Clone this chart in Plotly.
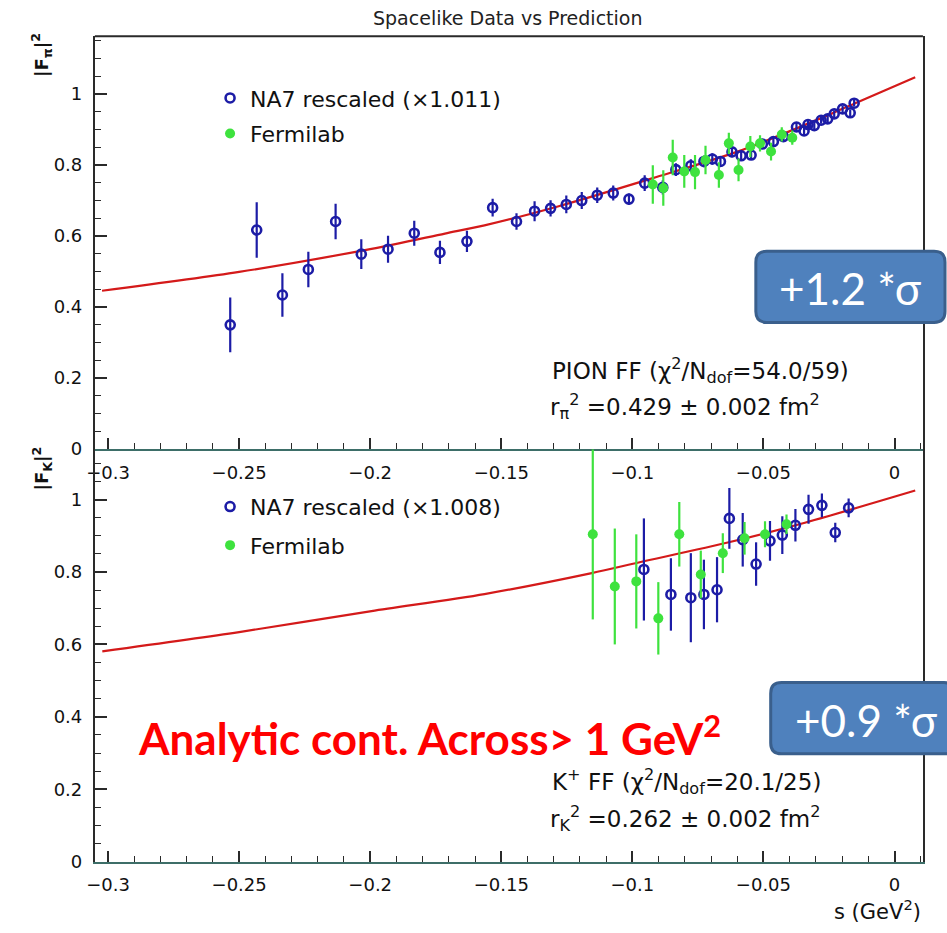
import plotly.graph_objects as go

# ---------------- pion form factor (upper pad) ----------------
pi_na7_s = [-0.2534, -0.2433, -0.2335, -0.2236, -0.2132, -0.2034, -0.1932, -0.1832,
            -0.1734, -0.1631, -0.1533, -0.1442, -0.1373, -0.1312, -0.1252, -0.1193,
            -0.1134, -0.1073, -0.1013, -0.0953, -0.0884, -0.0834, -0.0777, -0.0727,
            -0.0695, -0.0664, -0.0620, -0.0585, -0.0547, -0.0504, -0.0462, -0.0424,
            -0.0374, -0.0345, -0.0330, -0.0306, -0.0280, -0.0255, -0.0230, -0.0198,
            -0.0169, -0.0154]
pi_na7_f2 = [0.350, 0.617, 0.434, 0.506, 0.641, 0.549, 0.563, 0.608,
             0.554, 0.585, 0.680, 0.641, 0.670, 0.678, 0.689, 0.700,
             0.715, 0.721, 0.704, 0.749, 0.737, 0.787, 0.798, 0.810,
             0.817, 0.810, 0.837, 0.826, 0.828, 0.859, 0.866, 0.880,
             0.907, 0.896, 0.914, 0.911, 0.926, 0.930, 0.944, 0.958,
             0.947, 0.974]
pi_na7_err = [0.077, 0.078, 0.061, 0.050, 0.050, 0.042, 0.038, 0.035,
              0.033, 0.030, 0.025, 0.023, 0.028, 0.023, 0.025, 0.024,
              0.022, 0.021, 0.016, 0.022, 0.020, 0.018, 0.018, 0.016,
              0.016, 0.015, 0.015, 0.014, 0.014, 0.013, 0.013, 0.012,
              0.012, 0.011, 0.011, 0.010, 0.010, 0.010, 0.009, 0.009,
              0.009, 0.009]

pi_fnal_s = [-0.0922, -0.0882, -0.0846, -0.0802, -0.0761, -0.0721, -0.0670,
             -0.0632, -0.0595, -0.0550, -0.0513, -0.0471, -0.0430, -0.0390]
pi_fnal_f2 = [0.745, 0.735, 0.821, 0.782, 0.780, 0.814, 0.772,
              0.861, 0.786, 0.852, 0.861, 0.838, 0.886, 0.877]
pi_fnal_err = [0.054, 0.050, 0.050, 0.046, 0.048, 0.040, 0.036,
               0.030, 0.032, 0.030, 0.023, 0.025, 0.020, 0.020]

pi_fit_s = [-0.3023, -0.2500, -0.1995, -0.1715, -0.1564, -0.1281, -0.0922,
            -0.0582, -0.0242, -0.0141, 0.0079]
pi_fit_f2 = [0.446, 0.499, 0.564, 0.607, 0.630, 0.684, 0.763,
             0.842, 0.944, 0.977, 1.047]

# ---------------- kaon form factor (lower pad) ----------------
k_na7_s = [-0.0956, -0.0853, -0.0777, -0.0727, -0.0677, -0.0630, -0.0579, -0.0528,
           -0.0475, -0.0428, -0.0378, -0.0328, -0.0277, -0.0226, -0.0175]
k_na7_f2 = [0.807, 0.738, 0.729, 0.738, 0.751, 0.948, 0.889, 0.822,
            0.886, 0.902, 0.929, 0.973, 0.984, 0.909, 0.977]
k_na7_err = [0.141, 0.100, 0.123, 0.096, 0.090, 0.084, 0.074, 0.060,
             0.055, 0.052, 0.045, 0.040, 0.033, 0.027, 0.026]

k_fnal_s = [-0.1151, -0.1067, -0.0985, -0.0901, -0.0821, -0.0739, -0.0655,
            -0.0572, -0.0494, -0.0412]
k_fnal_f2 = [0.904, 0.760, 0.774, 0.672, 0.904, 0.793, 0.852, 0.893, 0.904, 0.932]
k_fnal_err = [0.235, 0.160, 0.130, 0.100, 0.089, 0.066, 0.055, 0.045, 0.036, 0.027]

k_fit_s = [-0.3022, -0.2500, -0.1995, -0.1564, -0.1155, -0.0972, -0.0632,
           -0.0342, 0.0079]
k_fit_f2 = [0.581, 0.634, 0.692, 0.739, 0.797, 0.827, 0.882, 0.936, 1.025]

# ---------------- text ----------------
title_text = "Spacelike Data vs Prediction"
pi_legend_na7 = "NA7 rescaled (×1.011)"
k_legend_na7 = "NA7 rescaled (×1.008)"
legend_fnal = "Fermilab"
pi_fit_lines = ["PION FF (χ<sup>2</sup>/N<sub>dof</sub>=54.0/59)",
                "r<sub>π</sub><sup>2</sup> =0.429 ± 0.002 fm<sup>2</sup>"]
k_fit_lines = ["K<sup>+</sup> FF (χ<sup>2</sup>/N<sub>dof</sub>=20.1/25)",
               "r<sub>K</sub><sup>2</sup> =0.262 ± 0.002 fm<sup>2</sup>"]
pi_sigma_text = "+1.2 *σ"
k_sigma_text = "+0.9 *σ"
continuation_text = "<b>Analytic cont. Across> 1 GeV<sup>2</sup></b>"

# ---------------- styling ----------------
W, H = 947, 933
ROOT_FONT = "DejaVu Sans"
BLUE = "#1c1ca6"
GREEN = "#3ee23e"
RED = "#d41a1a"
AXIS_TEAL = "#3d6e68"
FRAME = "#2a2a2a"
BOX_FILL = "#4f81bd"
BOX_EDGE = "#3a5f8c"

S_RANGE = [-0.30503, 0.01084]
PI_RANGE = [0, 1.1624]
K_RANGE = [0, 1.1393]


def px_x(p):
    return p / W


def px_y(p):
    return 1 - p / H


X_DOMAIN = [px_x(86.7), px_x(922.7)]
TOP_DOMAIN = [px_y(454), px_y(36.7)]
BOT_DOMAIN = [px_y(871), px_y(454)]

fig = go.Figure()


def add_pad(xa, ya, leg, fit_s, fit_f2, na7_s, na7_f2, na7_err, na7_name,
            fnal_s, fnal_f2, fnal_err):
    fig.add_trace(go.Scatter(
        x=fit_s, y=fit_f2, mode="lines", xaxis=xa, yaxis=ya,
        line=dict(color=RED, width=2.2, shape="spline", smoothing=0.8),
        showlegend=False, hoverinfo="skip"))
    fig.add_trace(go.Scatter(
        x=na7_s, y=na7_f2, mode="markers", name=na7_name, xaxis=xa, yaxis=ya,
        legend=leg, legendgroup=leg + "na7",
        marker=dict(symbol="circle-open", size=9, color=BLUE,
                    line=dict(width=2.6, color=BLUE)),
        error_y=dict(type="data", array=na7_err, color=BLUE, thickness=2.2, width=0)))
    fig.add_trace(go.Scatter(
        x=fnal_s, y=fnal_f2, mode="markers", name=legend_fnal, xaxis=xa, yaxis=ya,
        legend=leg, legendgroup=leg + "fnal",
        marker=dict(symbol="circle", size=10, color=GREEN),
        error_y=dict(type="data", array=fnal_err, color=GREEN, thickness=2.2, width=0)))


add_pad("x", "y", "legend", pi_fit_s, pi_fit_f2, pi_na7_s, pi_na7_f2, pi_na7_err,
        pi_legend_na7, pi_fnal_s, pi_fnal_f2, pi_fnal_err)
add_pad("x2", "y2", "legend2", k_fit_s, k_fit_f2, k_na7_s, k_na7_f2, k_na7_err,
        k_legend_na7, k_fnal_s, k_fnal_f2, k_fnal_err)

tick_font = dict(family=ROOT_FONT, size=18, color="#111")

xaxis_style = dict(
    range=S_RANGE, domain=X_DOMAIN, dtick=0.05, tick0=0,
    ticks="inside", ticklen=11, tickwidth=1.5, tickcolor=FRAME,
    minor=dict(dtick=0.01, tick0=0, ticks="inside", ticklen=6, tickwidth=1.2,
               tickcolor=FRAME),
    showgrid=False, zeroline=False, showline=True, linecolor=AXIS_TEAL,
    linewidth=2, mirror=False, tickfont=tick_font, ticklabelstandoff=6)

yaxis_style = dict(
    dtick=0.2, tick0=0, ticks="inside", ticklen=12, tickwidth=1.5, tickcolor=FRAME,
    minor=dict(dtick=0.05, tick0=0, ticks="inside", ticklen=6, tickwidth=1.2,
               tickcolor=FRAME),
    showgrid=False, zeroline=False, showline=True, linecolor=FRAME, linewidth=2,
    mirror=True, tickfont=tick_font, ticklabelstandoff=7)

legend_font = dict(family=ROOT_FONT, size=22, color="#111")

fig.update_layout(
    width=W, height=H, autosize=False,
    margin=dict(l=0, r=0, t=0, b=0),
    paper_bgcolor="white", plot_bgcolor="white",
    xaxis=dict(anchor="y", **xaxis_style),
    yaxis=dict(anchor="x", domain=TOP_DOMAIN, range=PI_RANGE, **yaxis_style),
    xaxis2=dict(anchor="y2", **xaxis_style),
    yaxis2=dict(anchor="x2", domain=BOT_DOMAIN, range=K_RANGE, **yaxis_style),
    legend=dict(x=px_x(203), y=px_y(78), xanchor="left", yanchor="top",
                bgcolor="rgba(0,0,0,0)", borderwidth=0, traceorder="grouped",
                tracegroupgap=4, itemwidth=30, font=legend_font),
    legend2=dict(x=px_x(203), y=px_y(491), xanchor="left", yanchor="top",
                 bgcolor="rgba(0,0,0,0)", borderwidth=0, traceorder="grouped",
                 tracegroupgap=7, itemwidth=30, font=legend_font),
    showlegend=True,
)

shapes = []
# top edge of the upper frame
shapes.append(dict(type="line", xref="x domain", yref="y domain", x0=0, x1=1, y0=1, y1=1,
                   line=dict(color=FRAME, width=2)))


def rounded_box(x0, y0, x1, y1, r):
    # rounded rectangle in paper coordinates, corners given in pixels
    X0, X1 = px_x(x0), px_x(x1)
    Y0, Y1 = px_y(y0), px_y(y1)
    rx, ry = r / W, r / H
    path = (f"M{X0 + rx},{Y0} L{X1 - rx},{Y0} Q{X1},{Y0} {X1},{Y0 - ry} "
            f"L{X1},{Y1 + ry} Q{X1},{Y1} {X1 - rx},{Y1} L{X0 + rx},{Y1} "
            f"Q{X0},{Y1} {X0},{Y1 + ry} L{X0},{Y0 - ry} Q{X0},{Y0} {X0 + rx},{Y0} Z")
    return dict(type="path", xref="paper", yref="paper", path=path,
                fillcolor=BOX_FILL, line=dict(color=BOX_EDGE, width=3), layer="above")


shapes.append(rounded_box(754, 254, 945, 326, 11))
shapes.append(rounded_box(769, 690, 955, 762, 11))
fig.update_layout(shapes=shapes)

ann = []


def text(x, y, s, size=21, family=ROOT_FONT, color="#111", xanchor="left", angle=0):
    ann.append(dict(x=px_x(x), y=px_y(y), xref="paper", yref="paper", text=s,
                    showarrow=False, xanchor=xanchor, yanchor="middle",
                    textangle=angle, font=dict(family=family, size=size, color=color)))


text(504, 18, title_text, size=19, xanchor="center", color="#222")
text(546, 375, pi_fit_lines[0], size=23)
text(544, 411, pi_fit_lines[1], size=23)
text(546, 790, k_fit_lines[0], size=23)
text(544, 827, k_fit_lines[1], size=23)
text(33, 56, "<b>|F<sub>π</sub>|<sup>2</sup></b>", size=18, xanchor="center", angle=-90)
text(33, 474, "<b>|F<sub>K</sub>|<sup>2</sup></b>", size=18, xanchor="center", angle=-90)
text(877, 920, "s (GeV<sup>2</sup>)", size=21, xanchor="center")
text(850, 291, pi_sigma_text, size=44, family="Lato", color="white", xanchor="center")
text(866, 728, k_sigma_text, size=44, family="Lato", color="white", xanchor="center")
text(425, 743, continuation_text, size=44, family="Lato", color="#ff0000", xanchor="center")
fig.update_layout(annotations=ann)

fig.write_html("out.html")
